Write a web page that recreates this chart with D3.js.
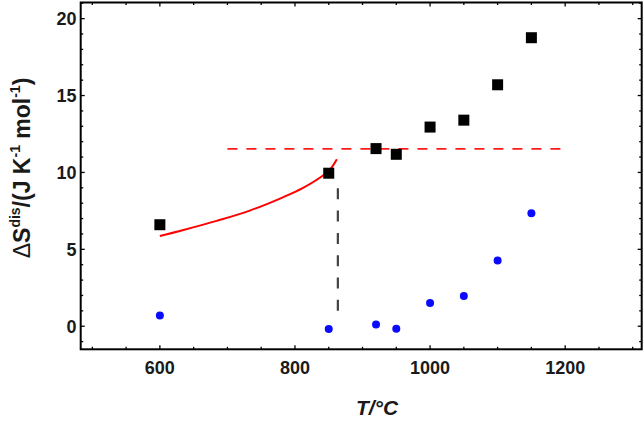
<!DOCTYPE html>
<html><head><meta charset="utf-8">
<script src="https://cdn.jsdelivr.net/npm/d3@7"></script>
<style>
body{margin:0;background:#fff;}
svg{display:block;}
text{font-family:"Liberation Sans",Arial,sans-serif;}
</style></head>
<body>
<svg id="chart" width="644" height="422"></svg>
<script>
// ---- data ----
const temps = [600, 850, 920, 950, 1000, 1050, 1100, 1150];
const squareValues = [6.6, 9.95, 11.55, 11.18, 12.95, 13.4, 15.7, 18.76];
const circleValues = [0.7, -0.18, 0.12, -0.17, 1.51, 1.97, 4.27, 7.35];
const curveT = [600, 635, 684, 733, 783, 812, 842, 853, 862];
const curveS = [5.87, 6.26, 6.85, 7.52, 8.40, 9.00, 9.82, 10.25, 10.86];
const plateauValue = 11.53;
const plateauRange = [700, 1200];
const transitionT = 863.5;
const transitionRange = [0.95, 8.97];
const xTicks = [600, 800, 1000, 1200];
const yTicks = [0, 5, 10, 15, 20];

// ---- layout ----
const svg = d3.select("#chart");
const L = 80.7, R = 641.7, T = 2.5, B = 349.3;
const x = d3.scaleLinear().domain([482.8, 1313.3]).range([L, R]);
const y = d3.scaleLinear().domain([-1.5, 21.05]).range([B, T]);

const g = svg.append("g");

const xMinor = d3.range(500, 1301, 50);
const yMinor = d3.range(-1, 22, 1);
const majorLen = 4, minorLen = 2.5;
function isMajorX(v){return v % 200 === 0;}
function isMajorY(v){return v % 5 === 0;}

xMinor.forEach(v => {
  const len = isMajorX(v) ? majorLen : minorLen;
  g.append("line").attr("x1", x(v)).attr("x2", x(v)).attr("y1", B).attr("y2", B - len)
    .attr("stroke", "#000").attr("stroke-width", 1.3);
  g.append("line").attr("x1", x(v)).attr("x2", x(v)).attr("y1", T).attr("y2", T + len)
    .attr("stroke", "#000").attr("stroke-width", 1.3);
});
yMinor.forEach(v => {
  if (y(v) < T || y(v) > B) return;
  const len = isMajorY(v) ? majorLen : minorLen;
  g.append("line").attr("y1", y(v)).attr("y2", y(v)).attr("x1", L).attr("x2", L + len)
    .attr("stroke", "#000").attr("stroke-width", 1.3);
  g.append("line").attr("y1", y(v)).attr("y2", y(v)).attr("x1", R).attr("x2", R - len)
    .attr("stroke", "#000").attr("stroke-width", 1.3);
});

g.append("rect").attr("x", L).attr("y", T).attr("width", R - L).attr("height", B - T)
  .attr("fill", "none").attr("stroke", "#000").attr("stroke-width", 2);

xTicks.forEach(v => {
  g.append("text").attr("x", x(v)).attr("y", 374).attr("text-anchor", "middle")
    .attr("font-size", 18).attr("font-weight", "bold").attr("fill", "#1a1a1a").text(v);
});
yTicks.forEach(v => {
  g.append("text").attr("x", 76.5).attr("y", y(v)).attr("dy", "0.36em").attr("text-anchor", "end")
    .attr("font-size", 18).attr("font-weight", "bold").attr("fill", "#1a1a1a").text(v);
});

const xt = g.append("text").attr("x", 377).attr("y", 415).attr("text-anchor", "middle")
  .attr("font-size", 21).attr("font-weight", "bold").attr("font-style", "italic").attr("fill", "#1a1a1a");
xt.append("tspan").text("T");
xt.append("tspan").text("/°C");

const yt = g.append("text").attr("transform", "translate(30,168) rotate(-90)")
  .attr("text-anchor", "middle").attr("font-size", 23).attr("font-weight", "bold").attr("fill", "#1a1a1a");
yt.append("tspan").attr("font-weight", "normal").text("Δ");
yt.append("tspan").text("S");
yt.append("tspan").attr("font-size", 14).attr("dy", -10).text("dis");
yt.append("tspan").attr("dy", 10).text("/(J K");
yt.append("tspan").attr("font-size", 14).attr("dy", -10).text("-1");
yt.append("tspan").attr("dy", 10).text(" mol");
yt.append("tspan").attr("font-size", 14).attr("dy", -10).text("-1");
yt.append("tspan").attr("dy", 10).text(")");

g.append("line").attr("x1", x(plateauRange[0])).attr("x2", x(plateauRange[1]))
  .attr("y1", y(plateauValue)).attr("y2", y(plateauValue))
  .attr("stroke", "#ff1a1a").attr("stroke-width", 1.6).attr("stroke-dasharray", "10,9");

g.append("line").attr("x1", x(transitionT)).attr("x2", x(transitionT))
  .attr("y1", y(transitionRange[1])).attr("y2", y(transitionRange[0]))
  .attr("stroke", "#444").attr("stroke-width", 2.2).attr("stroke-dasharray", "11,11.3");

const curvePts = curveT.map((t, i) => [t, curveS[i]]);
g.append("path").datum(curvePts)
  .attr("d", d3.line().x(d => x(d[0])).y(d => y(d[1])).curve(d3.curveCatmullRom.alpha(0.5)))
  .attr("fill", "none").attr("stroke", "#ff0000").attr("stroke-width", 2);

const sq = 11;
g.selectAll("rect.sq").data(temps).enter().append("rect").attr("class", "sq")
  .attr("x", (d) => x(d) - sq / 2).attr("y", (d, i) => y(squareValues[i]) - sq / 2)
  .attr("width", sq).attr("height", sq).attr("fill", "#000");

g.selectAll("circle.c").data(temps).enter().append("circle").attr("class", "c")
  .attr("cx", d => x(d)).attr("cy", (d, i) => y(circleValues[i])).attr("r", 4)
  .attr("fill", "#0a0aff");
</script>
</body></html>
